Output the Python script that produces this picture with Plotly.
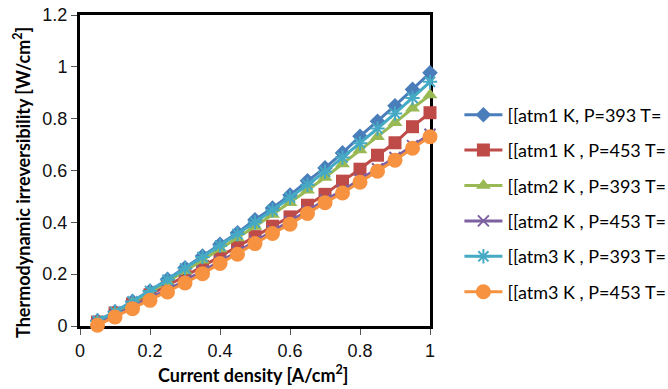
import plotly.graph_objects as go

current_density = [0.05, 0.10, 0.15, 0.20, 0.25, 0.30, 0.35, 0.40, 0.45, 0.50,
                   0.55, 0.60, 0.65, 0.70, 0.75, 0.80, 0.85, 0.90, 0.95, 1.00]

atm1_393 = [0.020, 0.055, 0.095, 0.135, 0.180, 0.225, 0.270, 0.315, 0.360, 0.410,
            0.455, 0.505, 0.560, 0.610, 0.668, 0.732, 0.790, 0.850, 0.913, 0.977]
atm1_453 = [0.015, 0.050, 0.085, 0.120, 0.156, 0.192, 0.230, 0.268, 0.305, 0.345,
            0.385, 0.421, 0.466, 0.508, 0.559, 0.605, 0.659, 0.707, 0.769, 0.823]
atm2_393 = [0.018, 0.052, 0.090, 0.130, 0.170, 0.212, 0.254, 0.297, 0.340, 0.384,
            0.430, 0.476, 0.524, 0.573, 0.625, 0.679, 0.730, 0.784, 0.840, 0.891]
atm2_453 = [0.010, 0.042, 0.074, 0.107, 0.140, 0.175, 0.211, 0.250, 0.286, 0.327,
            0.366, 0.403, 0.444, 0.486, 0.523, 0.565, 0.607, 0.650, 0.696, 0.740]
atm3_393 = [0.020, 0.055, 0.095, 0.135, 0.178, 0.222, 0.266, 0.310, 0.355, 0.400,
            0.447, 0.495, 0.545, 0.595, 0.650, 0.705, 0.762, 0.820, 0.880, 0.942]
atm3_453 = [0.003, 0.035, 0.067, 0.099, 0.131, 0.166, 0.202, 0.241, 0.277, 0.318,
            0.357, 0.393, 0.434, 0.476, 0.513, 0.555, 0.597, 0.640, 0.686, 0.730]

series_names = ["[[atm1 K, P=393 T=", "[[atm1 K , P=453 T=", "[[atm2 K , P=393 T=",
                "[[atm2 K , P=453 T=", "[[atm3 K , P=393 T=", "[[atm3 K , P=453 T="]
x_ticks = [0, 0.2, 0.4, 0.6, 0.8, 1]
y_ticks = [0, 0.2, 0.4, 0.6, 0.8, 1, 1.2]
x_tick_text = ["0", "0.2", "0.4", "0.6", "0.8", "1"]
y_tick_text = ["0", "0.2", "0.4", "0.6", "0.8", "1", "1.2"]

series_values = [atm1_393, atm1_453, atm2_393, atm2_453, atm3_393, atm3_453]
colors = ["#4A7EBB", "#BE4B48", "#98B954", "#7D60A0", "#46AAC5", "#F69240"]
symbols = ["diamond", "square", "triangle-up", "x-thin-open", "asterisk-open", "circle"]
sizes = [12, 13, 13, 11, 12, 15]

fig = go.Figure()
for i, (name, vals) in enumerate(zip(series_names, series_values)):
    open_sym = symbols[i].endswith("open")
    fig.add_trace(go.Scatter(
        x=current_density, y=vals, name=name, mode="lines+markers",
        legendgroup=f"g{i}",
        line=dict(color=colors[i], width=3),
        marker=dict(symbol=symbols[i], size=sizes[i], color=colors[i],
                    line=dict(color=colors[i], width=2 if open_sym else 0)),
        cliponaxis=False,
    ))

axis_common = dict(showgrid=False, zeroline=False, showline=True, linecolor="black",
                   linewidth=3, mirror=True, ticks="outside", ticklen=6, tickwidth=1,
                   tickcolor="#555555", layer="below traces",
                   tickfont=dict(family="Liberation Sans", size=18, color="#111111"))

fig.update_xaxes(range=[0, 1], tickvals=x_ticks, ticktext=x_tick_text, **axis_common)
fig.update_yaxes(range=[0, 1.2], tickvals=y_ticks, ticktext=y_tick_text, **axis_common)

fig.add_annotation(text="Current density [A/cm<sup>2</sup>]", xref="paper", yref="paper",
                   x=0.494, y=-0.154, xanchor="center", yanchor="middle", showarrow=False,
                   font=dict(family="Lato", size=18, color="black", weight="bold"))
fig.add_annotation(text="Thermodynamic irreversibility [W/cm<sup>2</sup>]", xref="paper", yref="paper",
                   x=-0.1657, y=0.46, xanchor="center", yanchor="middle", showarrow=False,
                   textangle=-90,
                   font=dict(family="Lato", size=18, color="black", weight="bold"))

fig.update_layout(
    width=668, height=389,
    margin=dict(l=80, r=238, t=15, b=63, autoexpand=False),
    paper_bgcolor="white", plot_bgcolor="white",
    showlegend=True,
    legend=dict(x=1.084, y=0.738, xanchor="left", yanchor="top", itemwidth=38,
                font=dict(family="Lato", size=18, color="black"),
                tracegroupgap=9, bgcolor="rgba(0,0,0,0)"),
)

fig.write_html("out.html", config={"displayModeBar": False},
               post_script="document.body.style.margin='0';")
